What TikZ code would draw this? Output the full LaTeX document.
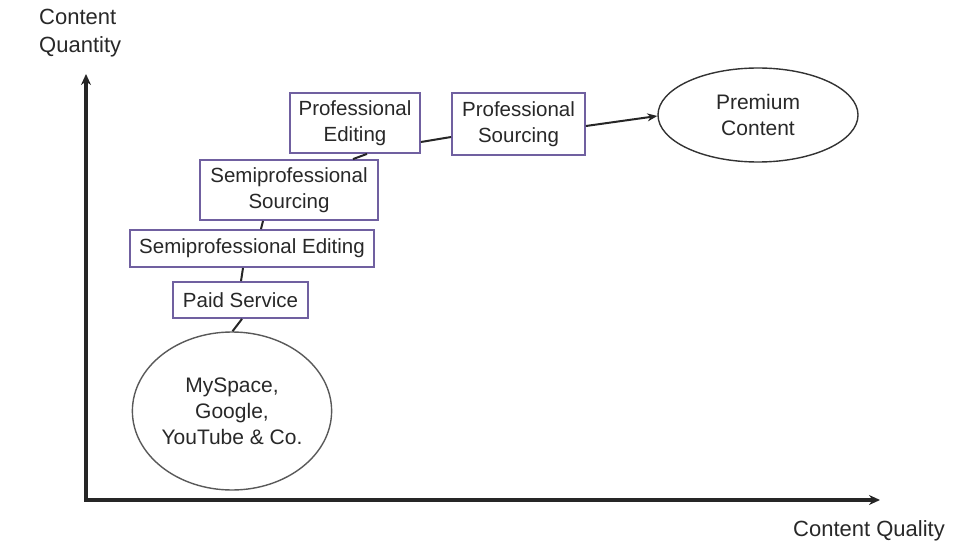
\documentclass[tikz,border=0pt]{standalone}
\usepackage{fontspec}
\setmainfont{Liberation Sans}
\usetikzlibrary{shapes.geometric,arrows.meta,calc}
\definecolor{boxpurple}{RGB}{112,96,160}
\definecolor{txt}{RGB}{40,40,40}
\begin{document}
\begin{tikzpicture}[x=1pt,y=-1pt,
  stage/.style={draw=boxpurple,line width=1.8pt,fill=white,text=txt,align=center,inner sep=0pt,
     font=\fontsize{20.5}{26}\selectfont},
  blob/.style={ellipse,draw=black!80,line width=1.4pt,text=txt,align=center,inner sep=0pt,
     font=\fontsize{21}{26}\selectfont},
  link/.style={draw=black!85,line width=2pt},
  axis/.style={draw=black!85,line width=3.2pt,-{Stealth[length=11pt,width=10pt]}},
  axlabel/.style={text=txt,inner sep=0pt,font=\fontsize{22}{28}\selectfont}]
\useasboundingbox (0,0) rectangle (960,548);
% axes
\coordinate (O) at (86,500);
\coordinate (ytop) at (86,74);
\coordinate (xend) at (880,500);
\draw[axis] (O) -- (ytop);
\draw[axis] ([xshift=-1.6pt]O) -- (xend);
\node[axlabel,anchor=north west,align=left] (ylab) at (39,9) {Content\\Quantity};
\node[axlabel,anchor=center] (xlab) at (869,531) {Content Quality};
% stages
\node[stage,minimum width=130pt,minimum height=60pt] (pe) at (355,123) {Professional\\Editing};
\node[stage,minimum width=133pt,minimum height=62pt] (ps) at (518.5,124) {Professional\\Sourcing};
\node[blob,minimum width=200pt,minimum height=94pt] (pc) at (758,115) {Premium\\Content};
\node[stage,minimum width=178pt,minimum height=60pt] (ss) at (289,190) {Semiprofessional\\Sourcing};
\node[stage,minimum width=244pt,minimum height=37pt] (se) at (252,248.5) {Semiprofessional Editing};
\node[stage,minimum width=135pt,minimum height=36pt] (pas) at (240.5,300) {Paid Service};
\node[blob,draw=black!65,minimum width=199pt,minimum height=158pt] (ms) at (232,411) {MySpace,\\Google,\\YouTube \& Co.};
% connectors
\draw[link] ([xshift=1.5pt]pas.south) -- ([xshift=0.5pt]ms.north);
\draw[link] ([xshift=-9pt]se.south) -- ([xshift=0.5pt]pas.north);
\draw[link] ([xshift=-26pt]ss.south) -- ([xshift=9pt]se.north);
\draw[link] ([xshift=12pt]pe.south) -- ([xshift=64pt]ss.north);
\draw[link] ([yshift=-19pt]pe.east) -- ([yshift=-13pt]ps.west);
\draw[link,-{Stealth[length=10pt,width=8pt]}] ([yshift=-2pt]ps.east) -- ([yshift=-1pt]pc.west);
\end{tikzpicture}
\end{document}
